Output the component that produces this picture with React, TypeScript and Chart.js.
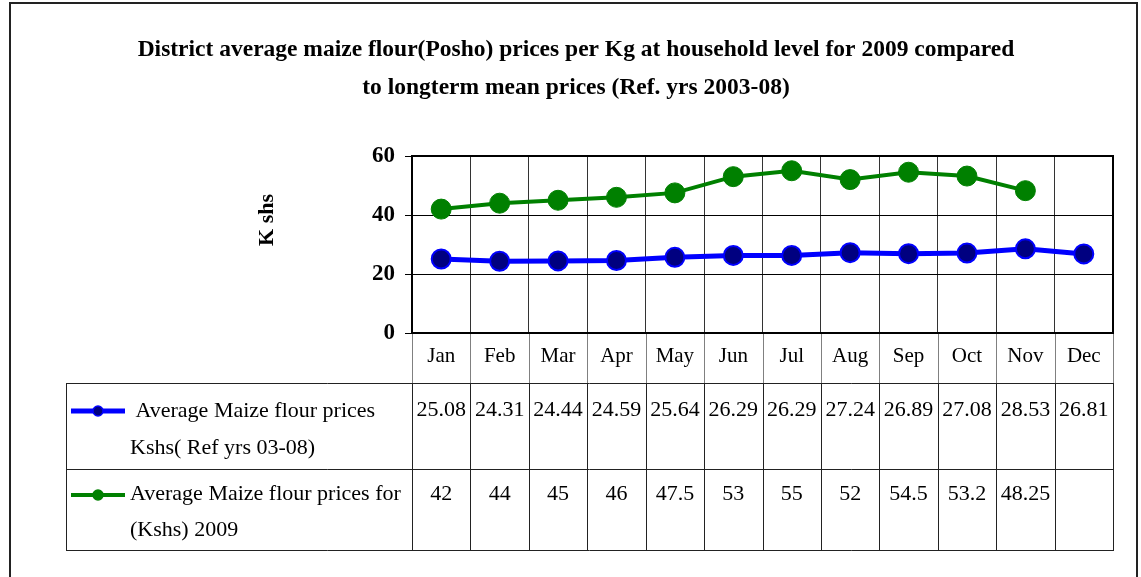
import React, { useEffect, useRef } from 'react';
import { Chart, registerables } from 'chart.js';

Chart.register(...registerables);

const W = 1141;
const H = 577;
const SERIF = "'Liberation Serif', 'Times New Roman', serif";

const months = ['Jan', 'Feb', 'Mar', 'Apr', 'May', 'Jun', 'Jul', 'Aug', 'Sep', 'Oct', 'Nov', 'Dec'];
const refPrices = [25.08, 24.31, 24.44, 24.59, 25.64, 26.29, 26.29, 27.24, 26.89, 27.08, 28.53, 26.81];
const prices2009: (number | null)[] = [42, 44, 45, 46, 47.5, 53, 55, 52, 54.5, 53.2, 48.25, null];
const yMin = 0;
const yMax = 60;
const yStep = 20;
const titleLines = [
  'District average maize flour(Posho) prices per Kg at household level for 2009 compared',
  'to longterm mean prices (Ref. yrs 2003-08)',
];
const yTitle = 'K shs';
const refLabelLines = [' Average Maize flour prices', 'Kshs( Ref yrs 03-08)'];
const label2009Lines = ['Average Maize flour prices for', '(Kshs) 2009'];

const REF_LINE = '#0000FF';
const REF_POINT = '#000080';
const GREEN = '#008000';

const fmt = (v: number | null) => (v === null ? '' : String(v));

const tablePlugin = {
  id: 'dataTable',
  afterDraw(chart: any) {
    const { ctx, chartArea: a } = chart;
    const n = months.length;
    const cw = (a.right - a.left) / n;
    const rowTop = 383;
    const row1Bottom = 469;
    const row2Bottom = 550;
    const legLeft = 66;
    ctx.save();

    // outer chart border
    ctx.strokeStyle = '#222';
    ctx.lineWidth = 2;
    ctx.strokeRect(10, 3, 1127, 620);

    // title
    ctx.fillStyle = '#000';
    ctx.font = `bold 23.5px ${SERIF}`;
    ctx.textAlign = 'center';
    ctx.textBaseline = 'middle';
    ctx.fillText(titleLines[0], 576, 50);
    ctx.fillText(titleLines[1], 576, 88);

    // plot area top / right border
    ctx.strokeStyle = '#000';
    ctx.lineWidth = 2;
    ctx.beginPath();
    ctx.moveTo(a.left, a.top);
    ctx.lineTo(a.right, a.top);
    ctx.lineTo(a.right, a.bottom);
    ctx.stroke();

    // month row vertical lines
    ctx.lineWidth = 1;
    ctx.strokeStyle = '#808080';
    for (let i = 0; i <= n; i++) {
      const x = Math.round(a.left + i * cw) + 0.5;
      ctx.beginPath();
      ctx.moveTo(x, a.bottom + 1);
      ctx.lineTo(x, rowTop);
      ctx.stroke();
    }

    // data table grid
    ctx.strokeStyle = '#222';
    for (const y of [rowTop, row1Bottom, row2Bottom]) {
      ctx.beginPath();
      ctx.moveTo(legLeft, y + 0.5);
      ctx.lineTo(a.right, y + 0.5);
      ctx.stroke();
    }
    const vxs = [legLeft];
    for (let i = 0; i <= n; i++) vxs.push(Math.round(a.left + i * cw));
    for (const x of vxs) {
      ctx.beginPath();
      ctx.moveTo(x + 0.5, rowTop);
      ctx.lineTo(x + 0.5, row2Bottom + 1);
      ctx.stroke();
    }

    // values
    ctx.fillStyle = '#000';
    ctx.font = `22px ${SERIF}`;
    ctx.textAlign = 'center';
    ctx.textBaseline = 'middle';
    const xs = chart.scales.x;
    for (let i = 0; i < n; i++) {
      const cx = xs.getPixelForValue(i);
      ctx.fillText(fmt(refPrices[i]), cx, 410);
      ctx.fillText(fmt(prices2009[i]), cx, 494);
    }

    // legend keys
    const drawKey = (y: number, line: string, fill: string, lw: number) => {
      ctx.strokeStyle = line;
      ctx.lineWidth = lw;
      ctx.beginPath();
      ctx.moveTo(71, y);
      ctx.lineTo(125, y);
      ctx.stroke();
      ctx.beginPath();
      ctx.arc(98, y, 5, 0, Math.PI * 2);
      ctx.fillStyle = fill;
      ctx.fill();
      ctx.lineWidth = 1.5;
      ctx.strokeStyle = line;
      ctx.stroke();
    };
    drawKey(411, REF_LINE, REF_POINT, 5);
    drawKey(495, GREEN, GREEN, 4);

    ctx.fillStyle = '#000';
    ctx.textAlign = 'left';
    ctx.font = `22px ${SERIF}`;
    ctx.fillText(refLabelLines[0], 130, 411);
    ctx.fillText(refLabelLines[1], 130, 448);
    ctx.fillText(label2009Lines[0], 130, 494);
    ctx.fillText(label2009Lines[1], 130, 530);

    // y axis title
    ctx.save();
    ctx.translate(267, 220);
    ctx.rotate(-Math.PI / 2);
    ctx.font = `bold 22px ${SERIF}`;
    ctx.textAlign = 'center';
    ctx.fillText(yTitle, 0, 0);
    ctx.restore();

    ctx.restore();
  },
};

export default function App() {
  const ref = useRef<HTMLCanvasElement | null>(null);

  useEffect(() => {
    if (!ref.current) return;
    const chart = new Chart(ref.current, {
      type: 'line',
      data: {
        labels: months,
        datasets: [
          {
            label: refLabelLines.join(' '),
            data: refPrices,
            borderColor: REF_LINE,
            borderWidth: 5,
            backgroundColor: REF_POINT,
            pointBackgroundColor: REF_POINT,
            pointBorderColor: REF_LINE,
            pointBorderWidth: 2,
            pointRadius: 9.5,
            tension: 0,
            order: 2,
          },
          {
            label: label2009Lines.join(' '),
            data: prices2009,
            borderColor: GREEN,
            borderWidth: 4,
            backgroundColor: GREEN,
            pointBackgroundColor: GREEN,
            pointBorderColor: GREEN,
            pointBorderWidth: 1,
            pointRadius: 10,
            tension: 0,
            order: 1,
          },
        ],
      },
      options: {
        responsive: false,
        animation: false,
        events: [],
        layout: { padding: { left: 250, right: 28, top: 156, bottom: 0 } },
        plugins: {
          legend: { display: false },
          tooltip: { enabled: false },
          title: { display: false },
        },
        scales: {
          x: {
            type: 'category',
            offset: true,
            afterFit: (s: any) => {
              s.height = 244;
            },
            grid: { offset: true, color: '#333', lineWidth: 1, drawTicks: false },
            border: { display: true, color: '#000', width: 2 },
            ticks: { color: '#000', padding: 11, font: { family: SERIF, size: 21 } },
          },
          y: {
            min: yMin,
            max: yMax,
            afterFit: (s: any) => {
              s.width = 162;
            },
            ticks: {
              stepSize: yStep,
              color: '#000',
              padding: 10,
              font: { family: SERIF, size: 23, weight: 'bold' },
            },
            grid: { color: '#000', lineWidth: 1, tickLength: 7, tickColor: '#000' },
            border: { display: true, color: '#000', width: 2 },
          },
        },
      },
      plugins: [tablePlugin],
    });
    return () => chart.destroy();
  }, []);

  return (
    <div style={{ position: 'fixed', left: 0, top: 0, width: W, height: H, background: '#fff' }}>
      <canvas ref={ref} width={W} height={H} style={{ display: 'block' }} />
    </div>
  );
}
